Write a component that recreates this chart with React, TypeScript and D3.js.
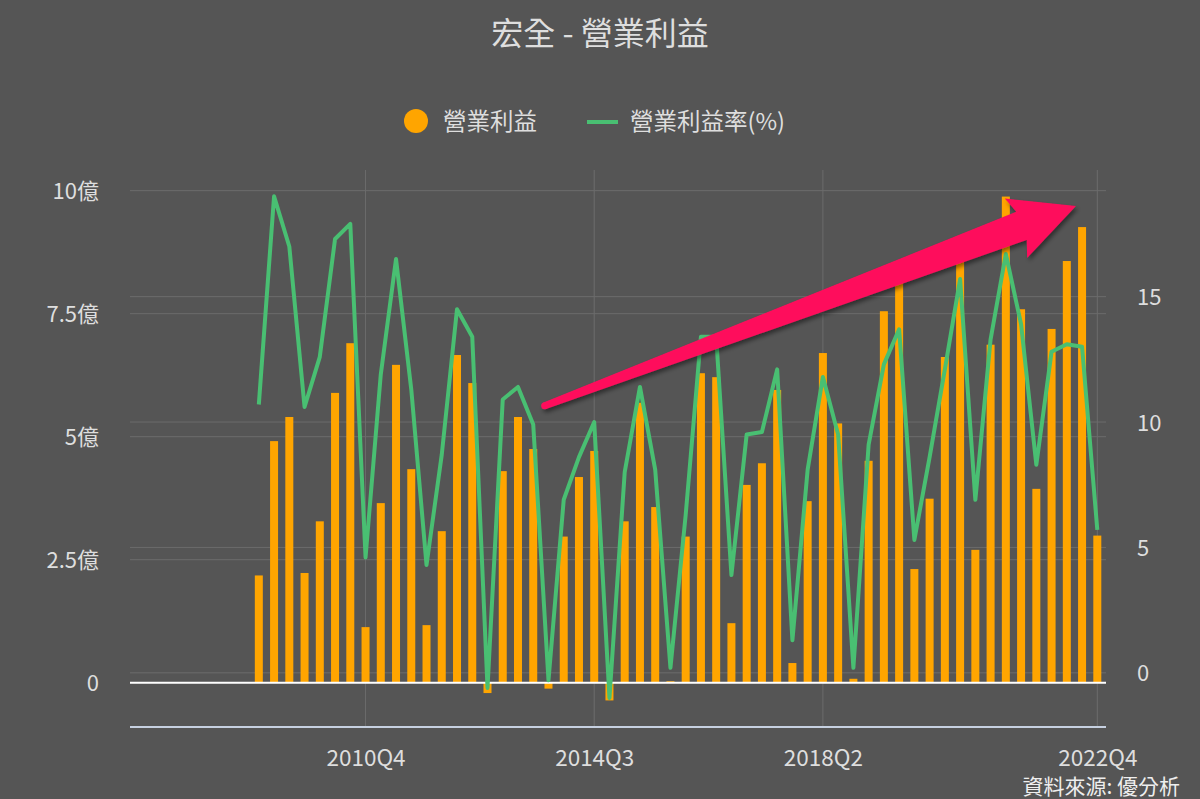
import React, { useEffect, useRef } from 'react';
import * as d3 from 'd3';

// quarterly data, 2009Q1 .. 2022Q4
const quarters = [
  '2009Q1', '2009Q2', '2009Q3', '2009Q4',
  '2010Q1', '2010Q2', '2010Q3', '2010Q4',
  '2011Q1', '2011Q2', '2011Q3', '2011Q4',
  '2012Q1', '2012Q2', '2012Q3', '2012Q4',
  '2013Q1', '2013Q2', '2013Q3', '2013Q4',
  '2014Q1', '2014Q2', '2014Q3', '2014Q4',
  '2015Q1', '2015Q2', '2015Q3', '2015Q4',
  '2016Q1', '2016Q2', '2016Q3', '2016Q4',
  '2017Q1', '2017Q2', '2017Q3', '2017Q4',
  '2018Q1', '2018Q2', '2018Q3', '2018Q4',
  '2019Q1', '2019Q2', '2019Q3', '2019Q4',
  '2020Q1', '2020Q2', '2020Q3', '2020Q4',
  '2021Q1', '2021Q2', '2021Q3', '2021Q4',
  '2022Q1', '2022Q2', '2022Q3', '2022Q4',
];

// 營業利益 (億)
const opIncome = [
  2.18, 4.91, 5.40, 2.23,
  3.28, 5.89, 6.90, 1.13,
  3.65, 6.46, 4.34, 1.17,
  3.08, 6.66, 6.09, -0.21,
  4.30, 5.40, 4.75, -0.12,
  2.97, 4.18, 4.71, -0.36,
  3.28, 5.69, 3.57, 0.03,
  2.97, 6.29, 6.21, 1.21,
  4.02, 4.46, 5.95, 0.40,
  3.69, 6.70, 5.27, 0.08,
  4.51, 7.55, 8.30, 2.31,
  3.74, 6.62, 8.80, 2.70,
  6.87, 9.88, 7.59, 3.94,
  7.19, 8.57, 9.26, 2.99,
];

// 營業利益率 (%)
const opMargin = [
  10.7, 19.0, 17.0, 10.6,
  12.6, 17.3, 17.9, 4.6,
  11.9, 16.5, 11.3, 4.3,
  8.7, 14.5, 13.4, -0.6,
  10.9, 11.4, 9.9, -0.3,
  6.9, 8.6, 10.0, -1.0,
  8.0, 11.4, 8.1, 0.2,
  6.3, 13.4, 13.4, 3.9,
  9.5, 9.6, 12.1, 1.3,
  8.1, 11.8, 9.5, 0.2,
  9.1, 12.3, 13.7, 5.3,
  8.6, 12.1, 15.7, 6.9,
  13.3, 16.7, 13.9, 8.3,
  12.8, 13.1, 13.0, 5.7,
];

const xTickLabels = ['2010Q4', '2014Q3', '2018Q2', '2022Q4'];
const leftTicks = [0, 2.5, 5, 7.5, 10];
const leftTickLabels = ['0', '2.5億', '5億', '7.5億', '10億'];
const rightTicks = [0, 5, 10, 15];

const FONT = "'Noto Sans CJK TC', 'Noto Sans', sans-serif";
const BAR = '#ffa500';
const LINE = '#49bf72';
const TEXT = '#dedede';
const GRID = '#6c6c6c';

function OperatingProfitChart() {
  const ref = useRef<SVGSVGElement>(null);

  useEffect(() => {
    if (!ref.current) return;
    const svg = d3.select(ref.current);
    svg.selectAll('*').remove();

    const W = 1200, H = 799;
    const plot = { left: 130, right: 1106, top: 170, bottom: 727 };

    svg.append('rect').attr('width', W).attr('height', H).attr('fill', '#555555');

    // scales (x in quarter index, datetime-like axis padding on the left)
    const x = d3.scaleLinear().domain([-8.45, 55.57]).range([plot.left, plot.right]);
    const yL = d3.scaleLinear().domain([-0.9, 10.42]).range([plot.bottom, plot.top]);
    const yR = d3.scaleLinear().domain([-2.16, 20.05]).range([plot.bottom, plot.top]);

    // title
    svg.append('text')
      .attr('x', W / 2).attr('y', 31)
      .attr('text-anchor', 'middle').attr('dominant-baseline', 'central')
      .style('font-family', FONT).style('font-size', '32px').attr('fill', TEXT)
      .text('宏全 - 營業利益');

    // legend
    const legend = svg.append('g').style('font-family', FONT).style('font-size', '23.5px');
    legend.append('circle').attr('cx', 416).attr('cy', 121).attr('r', 12).attr('fill', BAR);
    legend.append('text').attr('x', 443).attr('y', 120).attr('dominant-baseline', 'central')
      .attr('fill', TEXT).text('營業利益');
    legend.append('line').attr('x1', 587).attr('x2', 618).attr('y1', 122).attr('y2', 122)
      .attr('stroke', LINE).attr('stroke-width', 4);
    legend.append('text').attr('x', 630).attr('y', 120).attr('dominant-baseline', 'central')
      .attr('fill', TEXT).text('營業利益率(%)');

    // grid
    const grid = svg.append('g');
    grid.selectAll('.gl').data(leftTicks).join('line')
      .attr('x1', plot.left).attr('x2', plot.right)
      .attr('y1', d => yL(d)).attr('y2', d => yL(d))
      .attr('stroke', GRID).attr('stroke-width', 1);
    grid.selectAll('.gr').data(rightTicks).join('line')
      .attr('x1', plot.left).attr('x2', plot.right)
      .attr('y1', d => yR(d)).attr('y2', d => yR(d))
      .attr('stroke', GRID).attr('stroke-width', 1);
    const xTickIdx = xTickLabels.map(l => quarters.indexOf(l));
    grid.selectAll('.gx').data(xTickIdx).join('line')
      .attr('x1', d => x(d)).attr('x2', d => x(d))
      .attr('y1', plot.top).attr('y2', plot.bottom)
      .attr('stroke', GRID).attr('stroke-width', 1);

    // left axis
    const left = svg.append('g')
      .attr('transform', `translate(${plot.left},0)`)
      .call(d3.axisLeft(yL).tickValues(leftTicks)
        .tickFormat((_d, i) => leftTickLabels[i]).tickSize(0).tickPadding(31));
    left.select('.domain').remove();
    left.selectAll('text')
      .attr('dy', '-2.5').attr('dominant-baseline', 'central')
      .style('font-family', FONT).style('font-size', '22px').attr('fill', TEXT);

    // right axis
    const right = svg.append('g')
      .attr('transform', `translate(${plot.right},0)`)
      .call(d3.axisRight(yR).tickValues(rightTicks).tickSize(0).tickPadding(31));
    right.select('.domain').remove();
    right.selectAll('text')
      .attr('dy', '-2').attr('dominant-baseline', 'central')
      .style('font-family', FONT).style('font-size', '22px').attr('fill', TEXT);

    // bottom axis
    const bottom = svg.append('g')
      .attr('transform', `translate(0,${plot.bottom})`)
      .call(d3.axisBottom(x).tickValues(xTickIdx)
        .tickFormat(d => quarters[d as number]).tickSize(0));
    bottom.select('.domain').remove();
    bottom.selectAll('text')
      .attr('y', 29).attr('dy', null).attr('dominant-baseline', 'central')
      .style('font-family', FONT).style('font-size', '22.5px').attr('fill', TEXT);
    svg.append('line')
      .attr('x1', plot.left).attr('x2', plot.right)
      .attr('y1', plot.bottom).attr('y2', plot.bottom)
      .attr('stroke', '#c6d0e0').attr('stroke-width', 2);

    // bars
    const barW = 8;
    svg.append('g').selectAll('rect').data(opIncome).join('rect')
      .attr('x', (_d, i) => x(i) - barW / 2)
      .attr('y', d => Math.min(yL(d), yL(0)))
      .attr('width', barW)
      .attr('height', d => Math.abs(yL(d) - yL(0)))
      .attr('fill', BAR);

    // zero line
    svg.append('line')
      .attr('x1', plot.left).attr('x2', plot.right)
      .attr('y1', yL(0)).attr('y2', yL(0))
      .attr('stroke', '#ffffff').attr('stroke-width', 2);

    // margin line
    const line = d3.line<number>().x((_d, i) => x(i)).y(d => yR(d));
    svg.append('path').datum(opMargin)
      .attr('d', line)
      .attr('fill', 'none').attr('stroke', LINE).attr('stroke-width', 4)
      .attr('stroke-linejoin', 'round');

    // trend arrow annotation (quarter index, 億)
    const from: [number, number] = [x(18.75), yL(5.63)];
    const to: [number, number] = [x(53.6), yL(9.69)];
    const dx = to[0] - from[0], dy = to[1] - from[1];
    const len = Math.hypot(dx, dy);
    const u = [dx / len, dy / len];
    const n = [-u[1], u[0]];
    const pt = (along: number, across: number) =>
      [to[0] + u[0] * along + n[0] * across, to[1] + u[1] * along + n[1] * across];
    const shape = [
      pt(-len, 3.5), pt(-58, 14.5), pt(-64, 31.5), pt(0, 0),
      pt(-64, -32), pt(-58, -15.5), pt(-len, -3.5),
    ];
    const defs = svg.append('defs');
    const f = defs.append('filter').attr('id', 'arrowShadow')
      .attr('x', '-10%').attr('y', '-30%').attr('width', '130%').attr('height', '160%');
    f.append('feDropShadow').attr('dx', 2).attr('dy', 3).attr('stdDeviation', 2)
      .attr('flood-color', '#000').attr('flood-opacity', 0.45);
    const arrow = svg.append('g').attr('filter', 'url(#arrowShadow)');
    arrow.append('path')
      .attr('d', 'M' + shape.map(p => p.join(',')).join('L') + 'Z')
      .attr('fill', '#fe0d5b');
    arrow.append('circle').attr('cx', from[0]).attr('cy', from[1]).attr('r', 3.5)
      .attr('fill', '#fe0d5b');

    // source
    svg.append('text')
      .attr('x', 1180).attr('y', 785)
      .attr('text-anchor', 'end').attr('dominant-baseline', 'central')
      .style('font-family', FONT).style('font-size', '21px').attr('fill', '#eeeeee')
      .text('資料來源: 優分析');
  }, []);

  return (
    <svg ref={ref} width={1200} height={799}
      style={{ position: 'absolute', left: 0, top: 0, display: 'block' }} />
  );
}

export default function App() {
  return <OperatingProfitChart />;
}
